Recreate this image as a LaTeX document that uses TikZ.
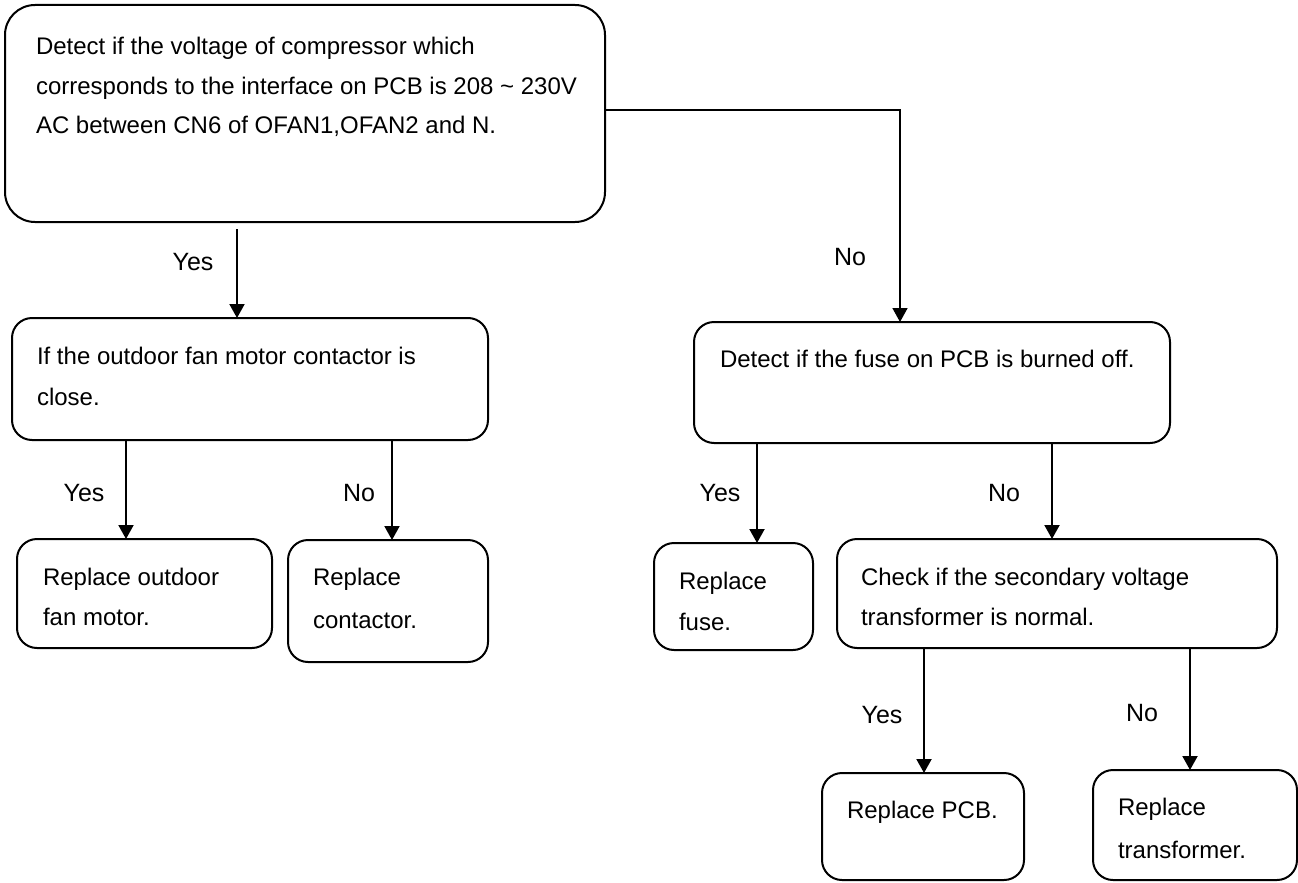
\documentclass[tikz,border=0pt]{standalone}
\usepackage{fontspec}
\setmainfont{Liberation Sans}
\usetikzlibrary{arrows.meta}
\begin{document}
\begin{tikzpicture}[x=1pt,y=-1pt,
  box/.style={draw,line width=2pt,rounded corners=20pt,inner sep=0pt,outer sep=0pt},
  txt/.style={inner sep=0pt,outer sep=0pt,anchor=base west,font=\fontsize{24}{40}\selectfont},
  lbl/.style={inner sep=0pt,font=\fontsize{25}{30}\selectfont},
  arr/.style={line width=2pt,-{Triangle[length=14pt,width=15pt]}}]
\useasboundingbox (0,0) rectangle (1298,883);
% boxes
\node[box,rounded corners=30pt,minimum width=600pt,minimum height=217pt] (b1) at (305,113.5) {};
\node[box,minimum width=476pt,minimum height=122pt] (b2) at (250,379) {};
\node[box,minimum width=255pt,minimum height=109pt] (b3) at (144.5,593.5) {};
\node[box,minimum width=200pt,minimum height=122pt] (b4) at (388,601) {};
\node[box,minimum width=476pt,minimum height=121pt] (b5) at (932,382.5) {};
\node[box,minimum width=159pt,minimum height=107pt] (b6) at (733.5,596.5) {};
\node[box,minimum width=440pt,minimum height=109pt] (b7) at (1057,593.5) {};
\node[box,minimum width=202pt,minimum height=107pt] (b8) at (923,826.5) {};
\node[box,minimum width=204pt,minimum height=110pt] (b9) at (1195,825) {};
% texts
\node[txt] (t1a) at (36,55) {Detect if the voltage of compressor which};
\node[txt] (t1b) at (36,94) {corresponds to the interface on PCB is 208 \textasciitilde\ 230V};
\node[txt] (t1c) at (36,133) {AC between CN6 of OFAN1,OFAN2 and N.};
\node[txt] (t2a) at (37,364) {If the outdoor fan motor contactor is};
\node[txt] (t2b) at (37,405) {close.};
\node[txt] (t3a) at (43,585) {Replace outdoor};
\node[txt] (t3b) at (43,625) {fan motor.};
\node[txt] (t4a) at (313,585) {Replace};
\node[txt] (t4b) at (313,628) {contactor.};
\node[txt] (t5a) at (720,367) {Detect if the fuse on PCB is burned off.};
\node[txt] (t6a) at (679,589) {Replace};
\node[txt] (t6b) at (679,630) {fuse.};
\node[txt] (t7a) at (861,585) {Check if the secondary voltage};
\node[txt] (t7b) at (861,625) {transformer is normal.};
\node[txt] (t8a) at (847,818) {Replace PCB.};
\node[txt] (t9a) at (1118,815) {Replace};
\node[txt] (t9b) at (1118,858) {transformer.};
% connector coordinates
\coordinate (c1) at (237,229);
\coordinate (k) at (900,110);
\coordinate (x2a) at (126,0);
\coordinate (x2b) at (392,0);
\coordinate (x5a) at (757,0);
\coordinate (x5b) at (1052,0);
\coordinate (x7a) at (924,0);
\coordinate (x7b) at (1190,0);
% connectors
\draw[arr] (c1) -- (c1 |- b2.north);
\draw[arr,line width=1.6pt] (b1.east |- k) -| (b5.north -| k);
\draw[arr] (b2.south -| x2a) -- (b3.north -| x2a);
\draw[arr] (b2.south -| x2b) -- (b4.north -| x2b);
\draw[arr] (b5.south -| x5a) -- (b6.north -| x5a);
\draw[arr] (b5.south -| x5b) -- (b7.north -| x5b);
\draw[arr] (b7.south -| x7a) -- (b8.north -| x7a);
\draw[arr] (b7.south -| x7b) -- (b9.north -| x7b);
% labels
\node[lbl] (l1) at (193,262) {Yes};
\node[lbl] (l2) at (850,257) {No};
\node[lbl] (l3) at (84,493) {Yes};
\node[lbl] (l4) at (359,493) {No};
\node[lbl] (l5) at (720,493) {Yes};
\node[lbl] (l6) at (1004,493) {No};
\node[lbl] (l7) at (882,715) {Yes};
\node[lbl] (l8) at (1142,713) {No};
\end{tikzpicture}
\end{document}
